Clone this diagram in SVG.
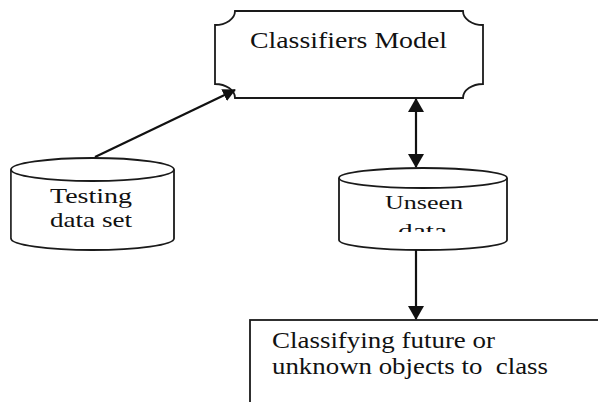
<svg xmlns="http://www.w3.org/2000/svg" width="598" height="402" viewBox="0 0 598 402">
  <style>
    .shape { fill: #ffffff; stroke: #1a1a1a; stroke-width: 1.8; }
    .conn { fill: none; stroke: #111111; stroke-width: 2.2; }
    .lbl { font-family: "Times New Roman", "Liberation Serif", "DejaVu Serif", serif; fill: #111111; }
  </style>
  <defs>
    <marker id="ah" viewBox="0 0 14 16" refX="13" refY="8" markerWidth="14" markerHeight="16" markerUnits="userSpaceOnUse" orient="auto-start-reverse">
      <path d="M0,0 L14,8 L0,16 Z" fill="#111111"/>
    </marker>
    <marker id="ahs" viewBox="0 0 14 14" refX="13" refY="7" markerWidth="13" markerHeight="13" markerUnits="userSpaceOnUse" orient="auto">
      <path d="M0,0 L14,7 L0,14 Z" fill="#111111"/>
    </marker>
    <clipPath id="unseenClip">
      <rect x="330" y="180" width="190" height="52"/>
    </clipPath>
  </defs>
  <rect width="598" height="402" fill="#ffffff"/>

  <g id="classifiers-model">
    <path class="shape" d="M235,11 H463 A20,14 0 0 0 483,25 V84 A20,14 0 0 0 463,98 H235 A20,14 0 0 0 215,84 V25 A20,14 0 0 0 235,11 Z"/>
    <text class="lbl" x="250" y="48" font-size="24" textLength="197" lengthAdjust="spacingAndGlyphs">Classifiers Model</text>
  </g>

  <g id="testing-data-set">
    <path class="shape" d="M11,169.5 V238.5 A81.5,11.5 0 0 0 174,238.5 V169.5"/>
    <line x1="11.5" y1="170" x2="11.5" y2="238" stroke="#555" stroke-width="1"/>
    <ellipse class="shape" cx="92.5" cy="169.5" rx="81.5" ry="11.5"/>
    <text class="lbl" x="50" y="203" font-size="22" textLength="82" lengthAdjust="spacingAndGlyphs">Testing</text>
    <text class="lbl" x="50" y="227" font-size="22" textLength="82" lengthAdjust="spacingAndGlyphs">data set</text>
  </g>

  <g id="unseen-data">
    <path class="shape" d="M339,178 V240 A84,10 0 0 0 507,240 V178"/>
    <ellipse class="shape" cx="423" cy="178" rx="84" ry="10"/>
    <text class="lbl" x="385" y="209" font-size="19" textLength="78" lengthAdjust="spacingAndGlyphs">Unseen</text>
    <g clip-path="url(#unseenClip)">
      <text class="lbl" x="398" y="237" font-size="18" textLength="49" lengthAdjust="spacingAndGlyphs">data</text>
    </g>
  </g>

  <g id="classifying-result">
    <rect class="shape" x="250" y="320" width="360" height="100"/>
    <text class="lbl" x="272" y="348" font-size="23" textLength="223" lengthAdjust="spacingAndGlyphs">Classifying future or</text>
    <text class="lbl" x="272" y="374" font-size="23" textLength="276" lengthAdjust="spacingAndGlyphs" xml:space="preserve">unknown objects to  class</text>
  </g>

  <g id="connectors">
    <line class="conn" x1="95" y1="157" x2="235" y2="90" marker-end="url(#ahs)"/>
    <line class="conn" x1="416" y1="99" x2="416" y2="167" marker-start="url(#ah)" marker-end="url(#ah)"/>
    <line class="conn" x1="416" y1="250" x2="416" y2="319" marker-end="url(#ah)"/>
  </g>
</svg>
